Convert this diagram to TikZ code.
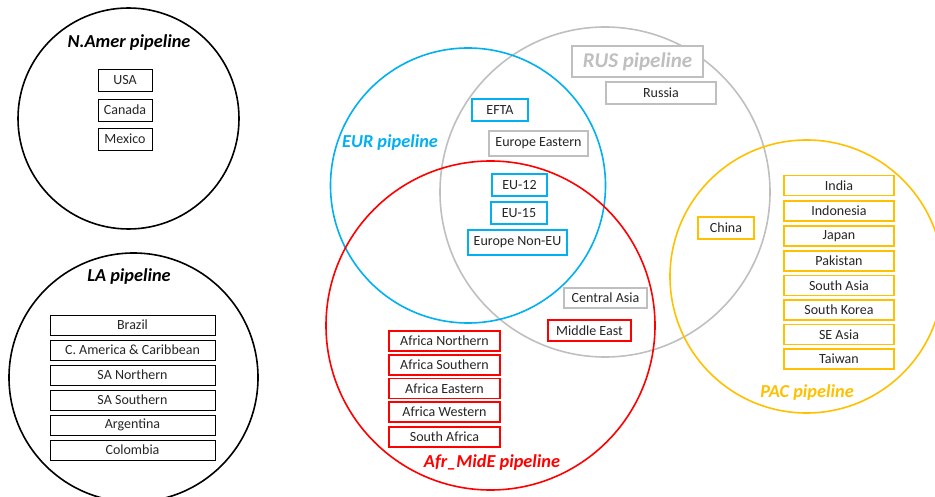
\documentclass[tikz,border=0pt]{standalone}
\usepackage{fontspec}
\setmainfont{Carlito}
\definecolor{cblue}{HTML}{00B0F0}
\definecolor{cred}{HTML}{FF0000}
\definecolor{cgray}{HTML}{BFBFBF}
\definecolor{cgold}{HTML}{FFC000}
\begin{document}
\begin{tikzpicture}[x=1pt,y=-1pt,
  ring/.style={circle,draw,line width=1.6pt,inner sep=0pt,fill=none},
  cbox/.style={rectangle,fill=white,inner sep=0pt,font=\fontsize{14}{16}\selectfont,text=black!85},
  kbox/.style={cbox,draw=black,line width=0.9pt},
  bbox/.style={cbox,draw=cblue,line width=1.8pt},
  rbox/.style={cbox,draw=cred,line width=1.8pt},
  gbox/.style={cbox,draw=cgray,line width=1.8pt},
  ybox/.style={cbox,draw=cgold,line width=1.8pt},
  title/.style={font=\fontsize{18.3}{21}\selectfont\bfseries\itshape,inner sep=0pt}]
\useasboundingbox (0,0) rectangle (935,497);
% circles
\node[ring,draw=black,minimum size=221pt] (namer) at (128.5,118.5) {};
\node[ring,draw=black,minimum size=249pt] (la) at (133.5,377.5) {};
\node[ring,draw=cgray,minimum size=330pt] (rus) at (605,192) {};
\node[ring,draw=cblue,minimum size=275pt] (eur) at (468,185.5) {};
\node[ring,draw=cred,minimum size=329pt] (afr) at (490.5,325.5) {};
\node[ring,draw=cgold,minimum size=273pt] (pac) at (806.5,276.5) {};
% N.Amer
\node[title] (tnamer) at (129,43) {N.Amer pipeline};
\node[kbox,minimum width=54pt,minimum height=22pt] (usa) at (125,80.5) {USA};
\node[kbox,minimum width=54pt,minimum height=22pt] (can) at (125,110) {Canada};
\node[kbox,minimum width=54pt,minimum height=22pt] (mex) at (125,139) {Mexico};
% LA
\node[title] (tla) at (129,277) {LA pipeline};
\foreach \n/\t/\y in {bra/Brazil/325,cam/C. America \& Caribbean/350,san/SA Northern/375,sas/SA Southern/400,arg/Argentina/425,col/Colombia/450}
  \node[kbox,minimum width=165pt,minimum height=20pt] (\n) at (132.5,\y) {\t};
% EUR / RUS
\node[title,text=cblue] (teur) at (390,143) {EUR pipeline};
\node[gbox,minimum width=131pt,minimum height=31pt,font=\fontsize{21}{24}\selectfont\bfseries\itshape,text=cgray] (trus) at (637.5,61.5) {RUS pipeline};
\node[gbox,minimum width=110pt,minimum height=22pt] (russia) at (661,93) {Russia};
\node[bbox,minimum width=56pt,minimum height=22pt] (efta) at (500,110) {EFTA};
\node[gbox,minimum width=99pt,minimum height=25pt] (eeast) at (538.5,143.5) {Europe Eastern};
\node[bbox,minimum width=55pt,minimum height=22pt] (eu12) at (519.5,185) {EU-12};
\node[bbox,minimum width=56pt,minimum height=22pt] (eu15) at (519,213) {EU-15};
\node[bbox,minimum width=99pt,minimum height=25pt] (enon) at (517.5,242.5) {Europe Non-EU};
\node[gbox,minimum width=83pt,minimum height=20pt] (casia) at (605.5,298) {Central Asia};
\node[rbox,minimum width=83pt,minimum height=21pt] (meast) at (589.5,330.5) {Middle East};
% Africa
\foreach \n/\t/\y in {afn/Africa Northern/341,afs/Africa Southern/365,afe/Africa Eastern/388.5,afw/Africa Western/412,saf/South Africa/437}
  \node[rbox,minimum width=111pt,minimum height=20pt] (\n) at (444.5,\y) {\t};
\node[title,text=cred] (tafr) at (492,463) {Afr\_MidE pipeline};
% PAC
\node[ybox,minimum width=56pt,minimum height=22pt] (china) at (726,228) {China};
\foreach \n/\t/\y in {ind/India/185.5,ino/Indonesia/211,jap/Japan/236,pak/Pakistan/261,sa/South Asia/285.5,sk/South Korea/310,sea/SE Asia/334.5,tw/Taiwan/359}
  \node[ybox,minimum width=110pt,minimum height=20pt] (\n) at (839,\y) {\t};
\node[title,text=cgold] (tpac) at (807,393) {PAC pipeline};
\end{tikzpicture}
\end{document}
